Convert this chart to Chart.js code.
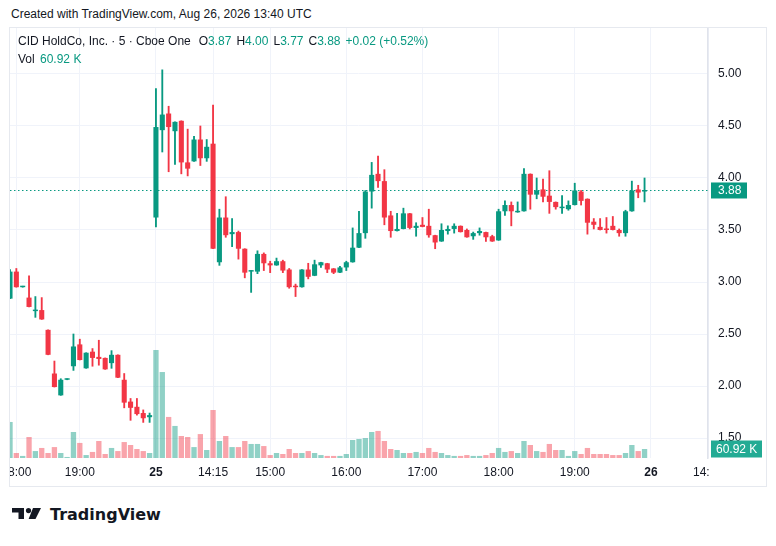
<!DOCTYPE html>
<html>
<head>
<meta charset="utf-8">
<title>CID HoldCo, Inc. 5m</title>
<script src="https://cdn.jsdelivr.net/npm/chart.js@4.4.0/dist/chart.umd.min.js"></script>
<style>
  body { margin: 0; background: #fff; font-family: 'Liberation Sans', Arial, sans-serif; color: #131722; }
  #page { position: relative; width: 776px; height: 546px; overflow: hidden; }
  #created { position: absolute; left: 11px; top: 6px; font-size: 12px; line-height: 16px; }
  #frame { position: absolute; left: 9px; top: 27px; width: 756px; height: 458px; border: 1px solid #e6e9ef; }
  #frame canvas { position: absolute; left: 0; top: 0; }
  #legend { position: absolute; left: 8px; top: 5px; font-size: 12px; line-height: 17.5px; white-space: nowrap; }
  #legend .v { color: #089981; }
  #legend .k { margin-left: 5px; }
  #logo { position: absolute; left: 12px; top: 508px; }
  #brand { position: absolute; left: 50px; top: 505px; font-family: 'DejaVu Sans', sans-serif; font-weight: bold; font-size: 16px; line-height: 20px; color: #131722; }
</style>
</head>
<body>
<div id="page">
  <div id="created">Created with TradingView.com, Aug 26, 2026 13:40 UTC</div>
  <div id="frame">
    <canvas id="myChart" width="756" height="458"></canvas>
    <div id="legend">
      <div>CID HoldCo, Inc. · 5 · Cboe One<span class="k" style="margin-left:8px">O<span class="v">3.87</span></span><span class="k">H<span class="v">4.00</span></span><span class="k">L<span class="v">3.77</span></span><span class="k">C<span class="v">3.88</span></span><span class="k v">+0.02 (+0.52%)</span></div>
      <div>Vol <span class="v" style="margin-left:2px">60.92 K</span></div>
    </div>
  </div>
  <svg id="logo" width="30" height="12" viewBox="0 0 30 12">
    <path d="M0 0 H12 V11 H6.5 V4.6 H0 Z" fill="#131722"/>
    <circle cx="16.5" cy="2.6" r="2.6" fill="#131722"/>
    <path d="M21 0 H29 L23.5 11 H16.6 Z" fill="#131722"/>
  </svg>
  <div id="brand">TradingView</div>
</div>
<script>
// 5-minute candles, oldest first
var opens = [2.84,3.10,2.95,2.85,2.72,2.73,2.54,2.12,1.91,2.06, 2.19,2.40,2.17,2.33,2.28,2.27,2.22,2.30,2.06,1.85,
             1.80,1.74,1.70,3.62,4.46,4.62,4.45,4.55,4.15,4.16, 4.37,4.19,4.33,3.19,3.62,3.46,3.48,3.32,3.10,3.10,
             3.27,3.18,3.16,3.20,3.12,2.96,2.95,3.12,3.06,3.16, 3.18,3.13,3.09,3.14,3.19,3.33,3.47,3.87,4.04,3.97,
             3.64,3.49,3.51,3.66,3.52,3.55,3.54,3.45,3.39,3.49, 3.51,3.54,3.50,3.44,3.47,3.48,3.44,3.40,3.68,3.74,
             3.67,3.68,4.04,3.84,3.89,3.83,3.77,3.71,3.70,3.74, 3.87,3.80,3.58,3.53,3.51,3.54,3.50,3.47,3.68,3.89,
             3.87];
var highs = [3.12,3.13,2.95,3.06,2.86,2.85,2.54,2.24,2.07,2.06, 2.50,2.45,2.32,2.36,2.44,2.27,2.34,2.30,2.12,1.88,
             1.88,1.77,1.74,4.86,5.04,4.69,4.54,4.55,4.47,4.40, 4.50,4.37,4.70,3.70,3.82,3.61,3.49,3.32,3.11,3.30,
             3.28,3.20,3.23,3.21,3.13,2.98,3.12,3.18,3.21,3.19, 3.18,3.13,3.15,3.20,3.52,3.68,3.88,4.15,4.21,4.08,
             3.68,3.66,3.71,3.66,3.57,3.62,3.70,3.45,3.56,3.54, 3.56,3.54,3.51,3.48,3.52,3.48,3.45,3.70,3.78,3.77,
             3.77,4.09,4.04,4.00,3.99,4.07,3.77,3.83,3.78,3.95, 3.88,3.80,3.61,3.61,3.62,3.63,3.51,3.69,3.97,3.93,
             4.00];
var lows = [2.84,2.95,2.95,2.76,2.66,2.64,2.30,1.99,1.91,2.06, 2.15,2.25,2.17,2.19,2.20,2.16,2.17,2.08,1.79,1.67,
            1.72,1.65,1.65,3.53,4.25,4.06,4.13,4.04,4.02,4.16, 4.12,4.16,3.32,3.16,3.43,3.34,3.22,3.04,2.90,3.08,
            3.11,3.09,3.16,3.09,2.94,2.86,2.95,3.03,3.06,3.14, 3.09,3.08,3.09,3.11,3.19,3.33,3.42,3.71,3.91,3.55,
            3.43,3.49,3.51,3.51,3.44,3.53,3.43,3.32,3.39,3.46, 3.47,3.48,3.43,3.41,3.45,3.39,3.39,3.40,3.64,3.54,
            3.67,3.68,3.70,3.80,3.77,3.66,3.70,3.66,3.69,3.74, 3.74,3.46,3.51,3.50,3.47,3.50,3.44,3.44,3.68,3.81,
            3.77];
var closes = [3.10,2.95,2.95,2.76,2.73,2.64,2.30,1.99,2.06,2.06, 2.38,2.25,2.32,2.27,2.26,2.16,2.30,2.08,1.84,1.79,
              1.73,1.69,1.72,4.49,4.61,4.49,4.54,4.15,4.09,4.37, 4.19,4.30,3.32,3.62,3.45,3.48,3.32,3.09,3.11,3.27,
              3.18,3.16,3.20,3.11,2.95,2.95,3.12,3.05,3.17,3.19, 3.12,3.09,3.14,3.19,3.33,3.47,3.87,4.03,3.97,3.62,
              3.49,3.51,3.66,3.52,3.54,3.53,3.45,3.38,3.50,3.51, 3.54,3.48,3.43,3.47,3.49,3.43,3.39,3.68,3.74,3.68,
              3.68,4.04,3.84,3.88,3.82,3.77,3.72,3.72,3.74,3.88, 3.78,3.57,3.55,3.50,3.50,3.50,3.47,3.68,3.88,3.86,
              3.88];
// volume in thousands
var volumes = [244,34,14,142,47,68,34,74,34,7, 176,102,20,41,115,27,68,47,108,88,
               61,47,34,731,582,278,217,149,142,74, 162,54,325,115,149,74,74,115,95,95,
               81,20,34,27,61,34,34,47,34,20, 14,14,14,27,122,129,135,176,183,115,
               61,54,34,34,41,34,68,41,34,20, 14,14,20,14,14,20,34,68,41,47,
               34,115,88,47,41,95,54,54,14,47, 27,68,27,27,27,20,20,34,88,47,
               60.92];
// time axis labels by bar slot (slots past 100 are empty future space)
var timeTicks = { 1: '18:00', 11: '19:00', 23: '25', 32: '14:15', 41: '15:00', 53: '16:00',
                  65: '17:00', 77: '18:00', 89: '19:00', 101: '26', 110: '14:15' };
var dayTicks = [23, 101];
var priceTicks = [1.50, 2.00, 2.50, 3.00, 3.50, 4.00, 4.50, 5.00];
var lastPrice = 3.88;
var lastVolume = 60.92;

var UP = '#089981', DOWN = '#F23645';
var slots = [];
for (var i = 0; i <= 110; i++) slots.push(i);

var isUp = closes.map(function(c, i) { return c >= opens[i]; });
var candleColors = isUp.map(function(u) { return u ? UP : DOWN; });
var volColors = isUp.map(function(u) { return u ? 'rgba(8,153,129,0.45)' : 'rgba(242,54,69,0.45)'; });

var lastPricePlugin = {
    id: 'lastPrice',
    beforeDatasetsDraw: function(chart) {
        var ctx = chart.ctx, a = chart.chartArea;
        var y = Math.round(chart.scales.y.getPixelForValue(lastPrice)) + 0.5;
        ctx.save();
        ctx.strokeStyle = UP;
        ctx.lineWidth = 1;
        ctx.setLineDash([1.5, 2.5]);
        ctx.beginPath();
        ctx.moveTo(a.left, y);
        ctx.lineTo(a.right, y);
        ctx.stroke();
        ctx.restore();
    },
    afterDraw: function(chart) {
        var ctx = chart.ctx, a = chart.chartArea;
        ctx.save();
        // clip time labels that run under the price scale
        ctx.fillStyle = '#ffffff';
        ctx.fillRect(a.right + 1, a.bottom + 1, chart.width, chart.height);
        ctx.font = '12px "Liberation Sans", Arial, sans-serif';
        ctx.textBaseline = 'middle';
        var py = chart.scales.y.getPixelForValue(lastPrice);
        ctx.fillStyle = UP;
        ctx.fillRect(a.right + 3, py - 8, 36, 16);
        ctx.fillStyle = '#ffffff';
        ctx.fillText(lastPrice.toFixed(2), a.right + 10, py + 0.5);
        var vy = chart.scales.yv.getPixelForValue(lastVolume);
        ctx.fillStyle = '#22ab94';
        ctx.fillRect(a.right + 3, vy - 8.5, 51, 17);
        ctx.fillStyle = '#ffffff';
        ctx.fillText('60.92 K', a.right + 8, vy + 0.5);
        ctx.restore();
    }
};

Chart.defaults.font.family = "'Liberation Sans', Arial, sans-serif";
Chart.defaults.font.size = 12;
Chart.defaults.color = '#131722';

var config = {
    type: 'bar',
    data: {
        labels: slots,
        datasets: [{
            label: 'Volume',
            data: volumes,
            yAxisID: 'yv',
            backgroundColor: volColors,
            grouped: false,
            categoryPercentage: 1,
            barPercentage: 0.84,
            order: 3
        }, {
            label: 'Wick',
            data: lows.map(function(l, i) { return [l, highs[i]]; }),
            yAxisID: 'y',
            backgroundColor: candleColors,
            grouped: false,
            barThickness: 1.2,
            minBarLength: 1,
            order: 2
        }, {
            label: 'Body',
            data: opens.map(function(o, i) { return [Math.min(o, closes[i]), Math.max(o, closes[i])]; }),
            yAxisID: 'y',
            backgroundColor: candleColors,
            grouped: false,
            categoryPercentage: 1,
            barPercentage: 0.8,
            minBarLength: 1.5,
            order: 1
        }]
    },
    options: {
        responsive: false,
        animation: false,
        events: [],
        layout: { padding: 0 },
        plugins: { legend: { display: false }, tooltip: { enabled: false } },
        scales: {
            x: {
                type: 'category',
                offset: false,
                grid: { offset: false, color: '#f0f3fa', drawTicks: false },
                border: { display: false },
                afterBuildTicks: function(s) {
                    s.ticks = Object.keys(timeTicks).map(function(k) { return { value: +k }; });
                },
                afterFit: function(s) { s.height = 28; s.paddingLeft = 0; s.paddingRight = 0; },
                ticks: {
                    autoSkip: false,
                    maxRotation: 0,
                    padding: 7,
                    color: '#131722',
                    callback: function(v) { return timeTicks[v] || ''; },
                    font: function(c) {
                        var bold = c.tick && dayTicks.indexOf(c.tick.value) >= 0;
                        return { size: 12, weight: bold ? 'bold' : 'normal' };
                    }
                }
            },
            y: {
                position: 'right',
                min: 1.3077,
                max: 5.4423,
                grid: { color: '#f0f3fa', drawTicks: false },
                border: { display: true, color: '#e0e3eb', width: 1.5 },
                afterBuildTicks: function(s) {
                    s.ticks = priceTicks.map(function(v) { return { value: v }; });
                },
                afterFit: function(s) { s.width = 58; s.paddingTop = 0; s.paddingBottom = 0; },
                ticks: {
                    padding: 10,
                    color: '#131722',
                    callback: function(v) { return Number(v).toFixed(2); }
                }
            },
            yv: {
                display: false,
                min: 0,
                max: 2911
            }
        }
    },
    plugins: [lastPricePlugin]
};

window.onload = function() {
    var ctx = document.getElementById('myChart').getContext('2d');
    window.myChart = new Chart(ctx, config);
};
</script>
</body>
</html>
